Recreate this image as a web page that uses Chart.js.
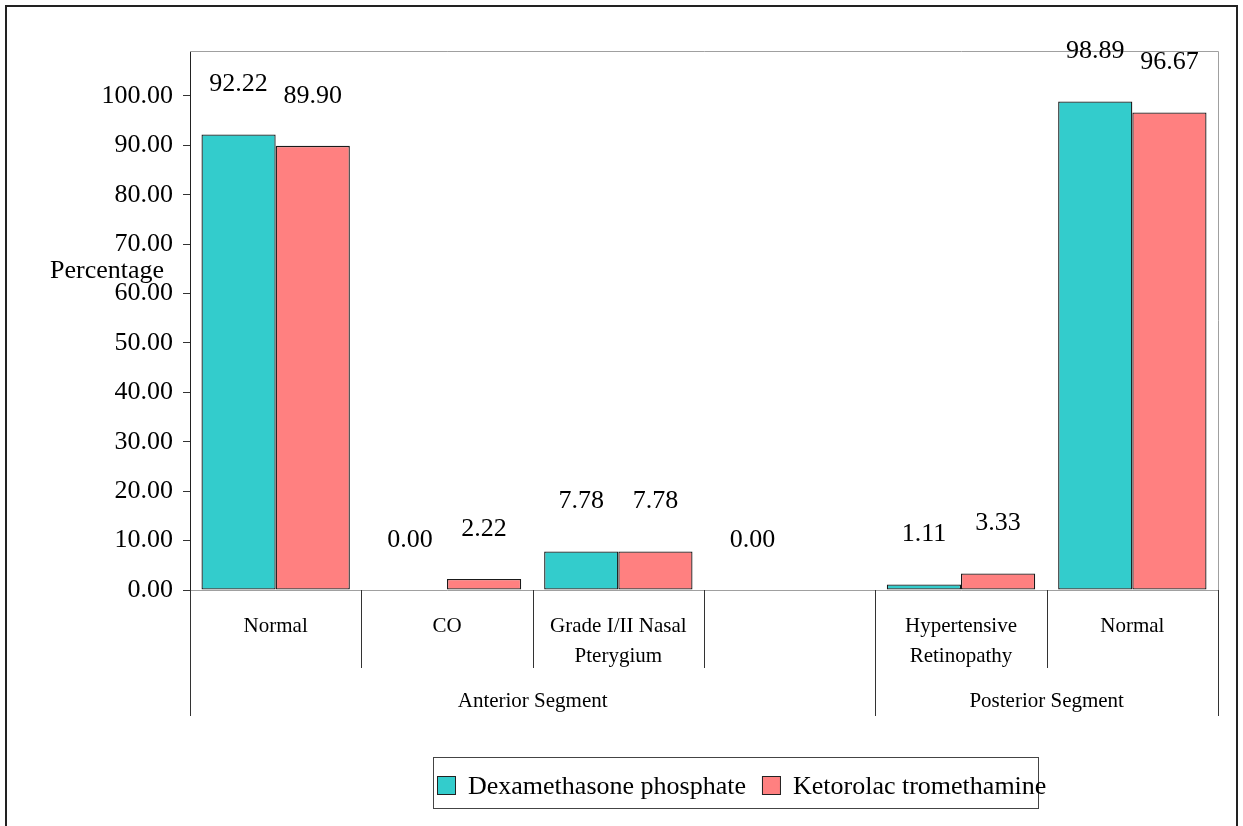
<!DOCTYPE html>
<html>
<head>
<meta charset="utf-8">
<script src="https://cdn.jsdelivr.net/npm/chart.js@4.4.0/dist/chart.umd.min.js"></script>
<style>
  body { margin: 0; background: #fff; }
  canvas { display: block; }
</style>
</head>
<body>
<canvas id="chart" width="1243" height="826"></canvas>
<script>
// data
const categories = [['Normal'], ['CO'], ['Grade I/II Nasal', 'Pterygium'], [''], ['Hypertensive', 'Retinopathy'], ['Normal']];
const groupLabels = ['Anterior Segment', 'Posterior Segment'];
const groupSizes = [4, 2];
const dexValues = [92.22, 0.00, 7.78, 0.00, 1.11, 98.89];
const ketValues = [89.90, 2.22, 7.78, null, 3.33, 96.67];
const seriesNames = ['Dexamethasone phosphate', 'Ketorolac tromethamine'];
const yTicks = [0, 10, 20, 30, 40, 50, 60, 70, 80, 90, 100];

const colors = ['#33CCCC', '#FF8080'];
const serif = '"Liberation Serif", "Times New Roman", serif';

// 막대 위 값, 다단 카테고리, 범례, 테두리
const decorations = {
    id: 'decorations',
    beforeDatasetsDraw(chart) {
        const {ctx, chartArea: a} = chart;
        ctx.save();
        ctx.strokeStyle = '#a0a0a0';
        ctx.lineWidth = 1;
        ctx.beginPath();
        ctx.moveTo(a.left, a.top + 0.5);
        ctx.lineTo(a.right + 0.5, a.top + 0.5);
        ctx.lineTo(a.right + 0.5, a.bottom);
        ctx.stroke();
        ctx.restore();
    },
    afterDraw(chart) {
        const {ctx, chartArea: a} = chart;
        const x = chart.scales.x;
        const n = categories.length;
        const w = (a.right - a.left) / n;
        ctx.save();

        // outer frame
        ctx.strokeStyle = '#222';
        ctx.lineWidth = 2;
        ctx.beginPath();
        ctx.moveTo(6, 830);
        ctx.lineTo(6, 6);
        ctx.lineTo(1237, 6);
        ctx.lineTo(1237, 830);
        ctx.stroke();

        // value labels
        ctx.fillStyle = '#000';
        ctx.font = '26px ' + serif;
        ctx.textAlign = 'center';
        ctx.textBaseline = 'middle';
        chart.data.datasets.forEach((ds, di) => {
            chart.getDatasetMeta(di).data.forEach((bar, i) => {
                const v = ds.data[i];
                if (v === null || v === undefined) return;
                ctx.fillText(v.toFixed(2), bar.x, bar.y - 50);
            });
        });

        // y title
        ctx.textAlign = 'left';
        ctx.fillText('Percentage', 50, 271);

        // category separators and labels
        ctx.strokeStyle = '#333';
        ctx.lineWidth = 1;
        const groupEdges = [0];
        groupSizes.reduce((s, g) => { groupEdges.push(s + g); return s + g; }, 0);
        for (let i = 0; i <= n; i++) {
            const px = Math.round(a.left + i * w) + 0.5;
            const long = groupEdges.includes(i);
            ctx.beginPath();
            ctx.moveTo(px, a.bottom);
            ctx.lineTo(px, long ? a.bottom + 126 : a.bottom + 78);
            ctx.stroke();
        }
        ctx.font = '21px ' + serif;
        ctx.textAlign = 'center';
        categories.forEach((lines, i) => {
            const cx = x.getPixelForValue(i);
            lines.forEach((t, li) => ctx.fillText(t, cx, a.bottom + 36 + li * 30));
        });
        groupLabels.forEach((t, gi) => {
            const cx = a.left + (groupEdges[gi] + groupEdges[gi + 1]) / 2 * w;
            ctx.fillText(t, cx, a.bottom + 111);
        });

        // legend
        ctx.strokeStyle = '#444';
        ctx.strokeRect(433.5, 757.5, 605, 51);
        ctx.font = '26px ' + serif;
        ctx.textAlign = 'left';
        let lx = 437;
        seriesNames.forEach((name, i) => {
            ctx.fillStyle = colors[i];
            ctx.fillRect(lx, 776, 19, 19);
            ctx.strokeStyle = '#222';
            ctx.strokeRect(lx + 0.5, 776.5, 18, 18);
            ctx.fillStyle = '#000';
            ctx.fillText(name, lx + 31, 787);
            lx += 31 + ctx.measureText(name).width + 16;
        });
        ctx.restore();
    }
};

new Chart(document.getElementById('chart').getContext('2d'), {
    type: 'bar',
    data: {
        labels: categories.map(c => c.join(' ')),
        datasets: [dexValues, ketValues].map((vals, i) => ({
            label: seriesNames[i],
            data: vals,
            backgroundColor: colors[i],
            borderColor: '#1a1a1a',
            borderWidth: c => (c.raw ? 1.3 : 0),
            borderSkipped: false,
            categoryPercentage: 0.866,
            barPercentage: 1.0,
        })),
    },
    options: {
        responsive: false,
        devicePixelRatio: 1,
        animation: false,
        layout: {padding: {left: 0, top: 51, right: 25, bottom: 0}},
        plugins: {
            legend: {display: false},
            tooltip: {enabled: false},
        },
        scales: {
            x: {
                ticks: {display: false},
                grid: {display: false},
                border: {color: '#a0a0a0'},
                afterFit: s => { s.height = 236; },
            },
            y: {
                min: 0,
                max: 109.1,
                afterBuildTicks: s => { s.ticks = yTicks.map(v => ({value: v})); },
                ticks: {
                    color: '#000',
                    font: {family: serif, size: 26},
                    padding: 10,
                    callback: v => v.toFixed(2),
                },
                grid: {drawOnChartArea: false, tickLength: 7, color: '#333'},
                border: {color: '#222'},
                afterFit: s => { s.width = 190; },
            },
        },
    },
    plugins: [decorations],
});
</script>
</body>
</html>
